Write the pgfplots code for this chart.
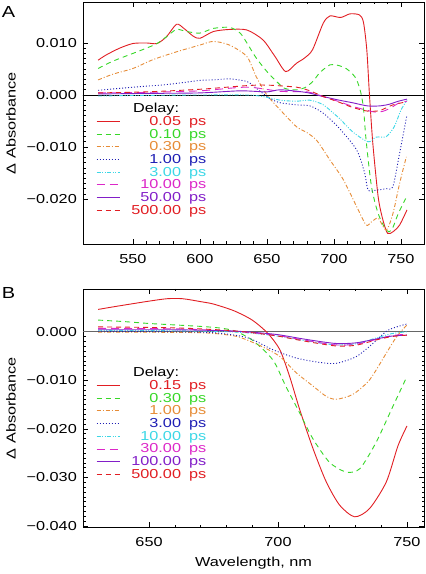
\documentclass[border=0pt]{standalone}
\usepackage{fontspec}
\setmainfont[FakeStretch=1.25]{Liberation Sans}
\usepackage{pgfplots}
\pgfplotsset{compat=1.18}
\definecolor{cR}{RGB}{225,30,35}
\definecolor{cG}{RGB}{55,215,40}
\definecolor{cO}{RGB}{230,140,55}
\definecolor{cB}{RGB}{30,30,180}
\definecolor{cC}{RGB}{60,215,230}
\definecolor{cM}{RGB}{220,40,200}
\definecolor{cP}{RGB}{130,30,200}
\newcommand{\fs}{\fontsize{13bp}{15bp}\selectfont}
\newcommand{\st}{\rule[-3bp]{0pt}{12.5bp}}
\newcommand{\lgd}[2]{\st\textcolor{#1}{\makebox[55bp][r]{#2}\hspace{8bp}ps}}
\pgfplotsset{legend image code/.code={\draw[#1] (0bp,0bp) -- (23bp,0bp);}}
\pgfplotsset{
  panel/.style={
    scale only axis, width=341bp,
    /pgf/number format/assume math mode=true,
    scaled y ticks=false, scaled x ticks=false,
    axis line style={line width=0.7bp},
    tick align=inside, major tick length=5bp, minor tick length=2.5bp,
    every tick/.append style={line width=0.6bp, black},
    tick label style={font=\fs},
    xticklabel style={inner sep=0pt, yshift=-10bp},
    yticklabel style={inner sep=0pt, xshift=-6bp},
    every axis y label/.style={at={(axis description cs:-0.211,0.5)}, rotate=90, anchor=center, font=\fs},
    every axis x label/.style={at={(axis description cs:0.5,-0.151)}, anchor=center, font=\fs},
    legend style={draw=none, fill=none, inner sep=0pt, legend cell align=left, font=\fs, row sep=1.7bp, column sep=6bp, nodes={inner sep=0pt}},
    every axis plot/.append style={line width=0.9bp, no markers, smooth, tension=0.45},
    minor x tick num=4, minor y tick num=9,
    ylabel={Δ Absorbance},
  },
  sR/.style={cR, solid},
  sG/.style={cG, dash pattern=on 5bp off 4bp},
  sO/.style={cO, dash pattern=on 4bp off 2bp on 1bp off 2bp},
  sB/.style={cB, dash pattern=on 1bp off 2bp},
  sC/.style={cC, dash pattern=on 4bp off 1.5bp on 1bp off 1.5bp on 1bp off 1.5bp},
  sM/.style={cM, dash pattern=on 8bp off 5bp},
  sP/.style={cP, solid},
  sR2/.style={cR, dash pattern=on 5bp off 4bp},
}
\begin{document}
\begin{tikzpicture}
\useasboundingbox (0,0) rectangle (426bp,574bp);
\node[font=\fontsize{16bp}{18bp}\selectfont, inner sep=0pt] at (8.5bp,561.5bp) {A};
\node[font=\fontsize{16bp}{18bp}\selectfont, inner sep=0pt] at (8.5bp,281.5bp) {B};
% ---------------- Panel A
\begin{axis}[panel, height=242bp, at={(83bp,330bp)}, anchor=south west,
  xmin=512.7, xmax=767.2, ymin=-0.02865, ymax=0.01788,
  xtick={550,600,650,700,750}, xticklabels={550,600,650,700,750},
  ytick={-0.02,-0.01,0,0.01}, yticklabels={−0.020,−0.010,0.000,0.010},
  legend style={at={(0.038,0.5826)}, anchor=north west}]
\addlegendimage{empty legend}\addlegendentry{\rule[-6bp]{0pt}{12.5bp}\hspace*{7bp}Delay:}
\addplot[black, line width=0.7bp, forget plot, sharp plot] coordinates {(500,0)(800,0)};
\addplot[sR] coordinates {(524,0.0067)(530,0.0077)(540,0.0090)(550,0.0099)(560,0.0100)(568,0.0099)(575,0.0112)(582.5,0.0136)(588,0.0128)(595,0.0113)(600,0.0109)(610,0.0122)(622,0.0126)(635,0.0125)(647,0.0106)(656,0.0074)(664,0.0045)(672,0.0061)(678,0.0071)(684,0.0087)(692,0.0138)(697,0.0152)(705,0.0149)(712,0.0156)(719,0.0154)(722,0.0140)(724.5,0.0087)(726.5,0.0)(729,-0.0093)(733,-0.0196)(736.5,-0.0240)(740,-0.0266)(744,-0.0263)(749,-0.0250)(754.5,-0.0221)};
\addlegendentry{\lgd{cR}{0.05}}
\addplot[sG] coordinates {(524,0.0051)(535,0.0065)(550,0.0080)(560,0.0090)(568,0.0099)(575,0.0112)(582.5,0.0126)(590,0.0122)(600,0.0119)(610,0.0128)(622,0.0130)(630,0.0119)(636,0.0096)(642,0.0071)(650,0.0045)(656,0.0029)(663,0.0013)(672,0.0010)(679,0.0015)(685,0.0028)(689,0.0042)(697,0.0058)(703,0.0057)(709,0.0051)(714,0.0040)(717,0.0029)(720,0.0005)(722,-0.0025)(724,-0.0087)(728,-0.0176)(733,-0.0228)(739,-0.0260)(743,-0.0260)(748,-0.0228)(753.5,-0.0199)};
\addlegendentry{\lgd{cG}{0.10}}
\addplot[sO] coordinates {(524,0.0029)(535,0.0040)(550,0.0051)(565,0.0068)(582.5,0.0083)(600,0.0096)(610,0.0103)(622,0.0096)(635,0.0074)(642,0.0035)(650,0.0)(660,-0.0029)(672,-0.0061)(679,-0.0071)(687,-0.0087)(697,-0.0125)(707,-0.0163)(717,-0.0215)(724,-0.0250)(728,-0.0244)(733,-0.0237)(739,-0.0260)(744,-0.0228)(749,-0.0170)(754,-0.0119)};
\addlegendentry{\lgd{cO}{0.30}}
\addplot[sB] coordinates {(524,0.0009)(550,0.0015)(575,0.0020)(600,0.0028)(610,0.0029)(622,0.0031)(635,0.0026)(641,0.0015)(647,0.0003)(653,-0.0008)(660,-0.0015)(672,-0.0019)(682,-0.0021)(692,-0.0035)(704,-0.0064)(717,-0.0106)(723,-0.0151)(725.5,-0.0183)(731.5,-0.0183)(739,-0.0180)(744,-0.0176)(749,-0.0112)(754.5,-0.0038)};
\addlegendentry{\lgd{cB}{1.00}}
\addplot[sC] coordinates {(524,-0.0002)(550,-0.0001)(600,0.0)(635,0.0)(647,-0.0003)(660,-0.0010)(672,-0.0012)(682,-0.0010)(692,-0.0019)(704,-0.0045)(714,-0.0071)(725.5,-0.0090)(731.5,-0.0081)(739,-0.0080)(745,-0.0061)(750,-0.0029)(754.5,-0.0010)};
\addlegendentry{\lgd{cC}{3.00}}
\addplot[sM] coordinates {(524,0.0004)(560,0.0005)(600,0.0008)(635,0.0015)(660,0.0007)(680,0.0006)(692,-0.0003)(704,-0.0013)(714,-0.0022)(725.5,-0.0030)(731,-0.0033)(737,-0.0031)(743,-0.0024)(748,-0.0016)(754.5,-0.0012)};
\addlegendentry{\lgd{cM}{10.00}}
\addplot[sP] coordinates {(524,0.0002)(560,0.0003)(600,0.0004)(630,0.0008)(650,0.0006)(660,0.0010)(679,0.0005)(692,-0.0003)(704,-0.0010)(714,-0.0015)(725,-0.0021)(734,-0.0021)(741,-0.0018)(748,-0.0012)(754.5,-0.0008)};
\addlegendentry{\lgd{cP}{50.00}}
\addplot[sR2] coordinates {(524,0.0004)(560,0.0006)(600,0.0011)(635,0.0018)(650,0.0019)(672,0.0015)(682,0.0008)(692,-0.0003)(704,-0.0014)(714,-0.0024)(725,-0.0031)(734,-0.0030)(744,-0.0019)(754.5,-0.0013)};
\addlegendentry{\lgd{cR}{500.00}}
\end{axis}
% ---------------- Panel B
\begin{axis}[panel, height=238bp, at={(83bp,47bp)}, anchor=south west,
  xmin=624.4, xmax=756.6, ymin=-0.0402, ymax=0.0088,
  xtick={650,700,750}, xticklabels={650,700,750},
  ytick={-0.04,-0.03,-0.02,-0.01,0}, yticklabels={−0.040,−0.030,−0.020,−0.010,0.000},
  xlabel={Wavelength, nm},
  legend style={at={(0.038,0.6714)}, anchor=north west}]
\addlegendimage{empty legend}\addlegendentry{\rule[-6bp]{0pt}{12.5bp}\hspace*{7bp}Delay:}
\addplot[black!60, line width=0.8bp, forget plot, sharp plot] coordinates {(600,0)(800,0)};
\addplot[sR] coordinates {(630.3,0.0046)(637,0.0052)(644,0.0058)(650,0.0063)(657,0.0068)(663,0.0068)(670,0.0062)(675,0.0057)(683,0.0043)(690,0.0024)(696,-0.0003)(700.7,-0.0037)(704.5,-0.0092)(708.4,-0.0160)(713.6,-0.0241)(718.7,-0.0309)(723.9,-0.0357)(729.7,-0.0381)(735.5,-0.0364)(742,-0.0309)(746.5,-0.0235)(750,-0.0194)};
\addlegendentry{\lgd{cR}{0.15}}
\addplot[sG] coordinates {(630.3,0.0024)(640,0.0021)(650,0.0017)(660,0.0014)(670,0.0011)(677,0.0008)(683,0.0002)(690,-0.0017)(698,-0.0058)(703,-0.0112)(708.4,-0.0167)(713.6,-0.0221)(720,-0.0269)(726.5,-0.0289)(731.7,-0.0282)(738,-0.0228)(744.6,-0.0153)(750,-0.0092)};
\addlegendentry{\lgd{cG}{0.30}}
\addplot[sO] coordinates {(630.3,-0.0001)(650,-0.0001)(670,-0.0002)(678,-0.0005)(685,-0.0011)(694,-0.0031)(700.7,-0.0051)(707.2,-0.0085)(713.6,-0.0112)(718.7,-0.0133)(722.6,-0.0139)(729,-0.0129)(735.5,-0.0099)(742,-0.0044)(746,-0.0010)(750,0.0014)};
\addlegendentry{\lgd{cO}{1.00}}
\addplot[sB] coordinates {(630.3,0.0001)(660,0.0000)(675,-0.0002)(688,-0.0012)(698,-0.0037)(707,-0.0054)(716,-0.0063)(722.6,-0.0065)(730.4,-0.0051)(736.8,-0.0024)(742,0.0001)(746,0.0010)(750,0.0016)};
\addlegendentry{\lgd{cB}{3.00}}
\addplot[sC] coordinates {(630.3,0.0003)(660,0.0002)(680,0.0)(690,-0.0003)(700,-0.0009)(710,-0.0018)(722,-0.0027)(730,-0.0025)(738,-0.0013)(744,-0.0004)(750,0.0)};
\addlegendentry{\lgd{cC}{10.00}}
\addplot[sM] coordinates {(630.3,0.0007)(660,0.0006)(680,0.0002)(690,-0.0002)(700,-0.0008)(710,-0.0017)(722,-0.0027)(730,-0.0026)(738,-0.0016)(744,-0.0008)(750,-0.0005)};
\addlegendentry{\lgd{cM}{30.00}}
\addplot[sP] coordinates {(630.3,0.0004)(660,0.0004)(680,0.0002)(690,-0.0001)(700,-0.0006)(710,-0.0015)(722,-0.0024)(730,-0.0023)(738,-0.0015)(744,-0.0009)(750,-0.0007)};
\addlegendentry{\lgd{cP}{100.00}}
\addplot[sR2] coordinates {(630.3,0.0010)(660,0.0008)(680,0.0003)(690,-0.0002)(700,-0.0009)(710,-0.0019)(722,-0.0029)(730,-0.0028)(738,-0.0017)(744,-0.0010)(750,-0.0007)};
\addlegendentry{\lgd{cR}{500.00}}
\end{axis}
\end{tikzpicture}
\end{document}
